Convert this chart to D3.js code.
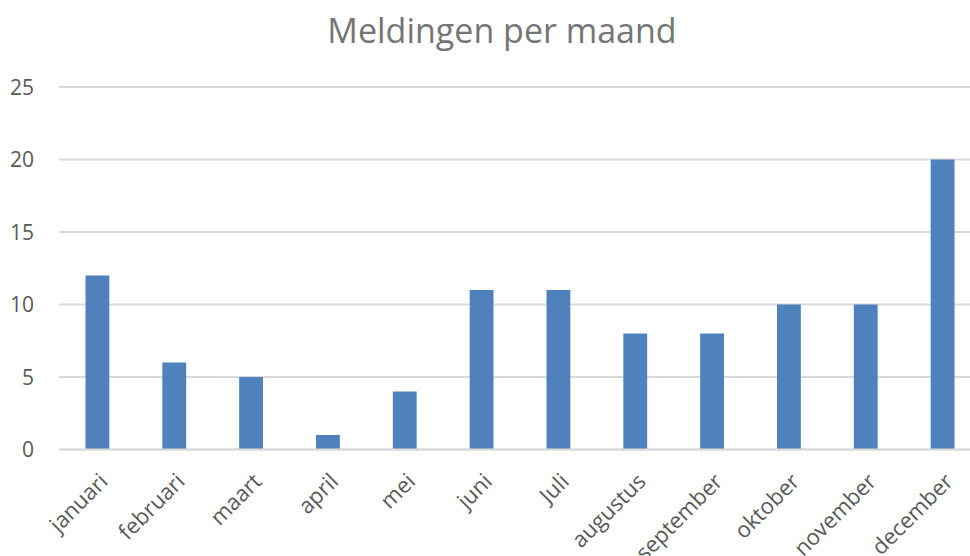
<!DOCTYPE html>
<html>
<head>
<meta charset="utf-8">
<script src="https://cdn.jsdelivr.net/npm/d3@7"></script>
<style>
	body { margin: 0; background: #fff; }
	svg { display: block; overflow: hidden; }
</style>
</head>
<body>
<div class="container"></div>
<script>

var months = ["januari", "februari", "maart", "april", "mei", "juni",
	"Juli", "augustus", "september", "oktober", "november", "december"];
var meldingen = [12, 6, 5, 1, 4, 11, 11, 8, 8, 10, 10, 20];
var yTicks = [0, 5, 10, 15, 20, 25];

var W = 970, H = 556;
var fontFam = "'Open Sans', 'Liberation Sans', sans-serif";

var svg = d3.select(".container")
	.append("svg")
	.attr("width", W)
	.attr("height", H);

var x = d3.scaleBand()
	.domain(months)
	.range([59, 981])
	.paddingInner(0.69)
	.paddingOuter(0.345);

var y = d3.scaleLinear()
	.domain([0, 25])
	.range([449.5, 87]);

// gridlines
svg.append("g")
	.selectAll("line")
	.data(yTicks)
	.enter()
	.append("line")
	.attr("x1", 59)
	.attr("x2", 981)
	.attr("y1", function(d) { return y(d); })
	.attr("y2", function(d) { return y(d); })
	.style("stroke", "#d9d9d9")
	.style("stroke-width", "2px");

// y labels
svg.append("g")
	.selectAll("text")
	.data(yTicks)
	.enter()
	.append("text")
	.attr("x", 34)
	.attr("y", function(d) { return y(d); })
	.attr("dy", "0.36em")
	.attr("text-anchor", "end")
	.style("font-family", fontFam)
	.style("font-size", "21px")
	.style("fill", "#595959")
	.text(function(d) { return d; });

// bars
svg.append("g")
	.selectAll("rect")
	.data(meldingen)
	.enter()
	.append("rect")
	.attr("x", function(d, i) { return x(months[i]); })
	.attr("y", function(d) { return y(d); })
	.attr("width", x.bandwidth())
	.attr("height", function(d) { return y(0) - y(d); })
	.style("fill", "#4f81bd");

// redraw baseline over bars
svg.append("line")
	.attr("x1", 59).attr("x2", 981)
	.attr("y1", y(0)).attr("y2", y(0))
	.style("stroke", "#d9d9d9")
	.style("stroke-width", "2px");

// x labels
svg.append("g")
	.selectAll("text")
	.data(months)
	.enter()
	.append("text")
	.attr("transform", function(d) {
		var cx = x(d) + x.bandwidth() / 2 + 1;
		return "translate(" + cx + ",472) rotate(-45)";
	})
	.attr("text-anchor", "end")
	.attr("dy", "0.7em")
	.style("font-family", fontFam)
	.style("font-size", "22px")
	.style("fill", "#595959")
	.text(function(d) { return d; });

// title
svg.append("text")
	.attr("x", 502)
	.attr("y", 43)
	.attr("text-anchor", "middle")
	.style("font-family", fontFam)
	.style("font-size", "34px")
	.style("fill", "#757575")
	.text("Meldingen per maand");

</script>
</body>
</html>
